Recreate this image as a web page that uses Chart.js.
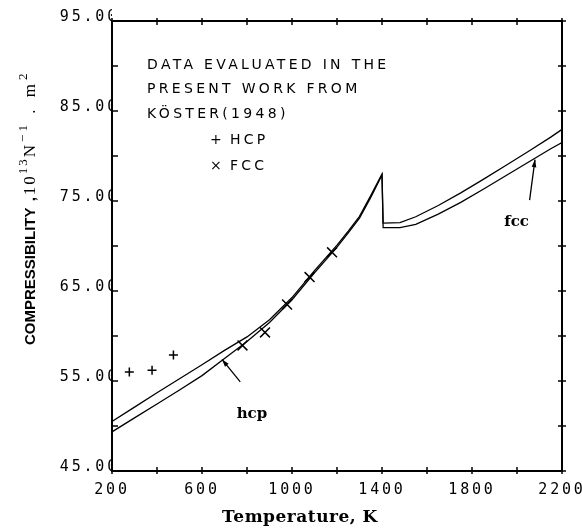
<!DOCTYPE html>
<html><head><meta charset="utf-8">
<script src="https://cdn.jsdelivr.net/npm/chart.js@4"></script>
<style>html,body{margin:0;padding:0;background:#fff}canvas{display:block}</style>
</head><body>
<canvas id="c" width="582" height="530"></canvas>
<script>
// ---- data ----
const lineTemps   = [200, 300, 400, 500, 600, 700, 800, 900, 1000, 1100, 1200, 1250, 1300, 1350, 1400, 1405, 1480, 1550, 1650, 1750, 1850, 1950, 2050, 2150, 2200];
const upperCurve  = [50.5, 52.1, 53.7, 55.25, 56.8, 58.4, 59.9, 61.8, 64.27, 67.27, 70.1, 71.65, 73.3, 75.6, 78.0, 72.55, 72.6, 73.25, 74.5, 75.9, 77.4, 78.95, 80.5, 82.1, 82.96];
const lowerCurve  = [49.35, 50.9, 52.45, 54.0, 55.6, 57.5, 59.4, 61.5, 64.03, 67.03, 69.88, 71.45, 73.1, 75.4, 77.9, 72.05, 72.05, 72.4, 73.55, 74.85, 76.3, 77.8, 79.3, 80.8, 81.5];
const hcpTemps    = [277, 378, 473];
const hcpValues   = [56.0, 56.2, 57.9];
const fccTemps    = [780, 880, 978, 1078, 1178];
const fccValues   = [58.95, 60.4, 63.5, 66.55, 69.3];
const xLabelTemps = [200, 600, 1000, 1400, 1800, 2200];
const yLabelValues = [45, 55, 65, 75, 85, 95];
const noteLines   = ['DATA EVALUATED IN THE', 'PRESENT WORK FROM', 'KÖSTER(1948)'];
const legendRows  = [['+', 'HCP'], ['×', 'FCC']];
const xTitle = 'Temperature, K';

const toPts = (xs, ys) => xs.map((x, i) => ({x, y: ys[i]}));

const deco = {
  id: 'deco',
  beforeDraw(chart) { chart.ctx.letterSpacing = '2.8px'; },
  afterDraw(chart) {
    const ctx = chart.ctx, {left, right, top, bottom} = chart.chartArea;
    const xs = chart.scales.x, ys = chart.scales.y;
    const X = v => xs.getPixelForValue(v), Y = v => ys.getPixelForValue(v);
    ctx.save();
    ctx.letterSpacing = '0px';
    ctx.strokeStyle = '#000'; ctx.fillStyle = '#000';
    ctx.lineWidth = 2;
    ctx.strokeRect(left, top, right - left, bottom - top);
    ctx.lineWidth = 1.5;
    const seg = (a, b, c, d) => { ctx.beginPath(); ctx.moveTo(a, b); ctx.lineTo(c, d); ctx.stroke(); };
    xs.ticks.forEach(t => { const p = X(t.value); seg(p, bottom - 4, p, bottom + 3); seg(p, top - 3, p, top + 4); });
    ys.ticks.forEach(t => { const p = Y(t.value); seg(left, p, left + 6, p); seg(right - 4, p, right + 4, p); });

    // notes
    ctx.font = '14px "DejaVu Sans"';
    ctx.letterSpacing = '3.3px';
    ctx.textBaseline = 'middle'; ctx.textAlign = 'left';
    const nx = X(356);
    noteLines.forEach((s, i) => ctx.fillText(s, nx, Y(90.1) + i * 24.7));
    legendRows.forEach((r, i) => {
      const yy = Y(90.1) + (3 + i) * 25.2;
      ctx.fillText(r[0], X(658) - 5, yy);
      ctx.fillText(r[1], X(724), yy);
    });
    ctx.letterSpacing = '0px';

    // curve labels + arrows
    ctx.font = 'bold 15px "DejaVu Serif"';
    ctx.textAlign = 'center';
    ctx.fillText('hcp', X(822), Y(51.3));
    ctx.fillText('fcc', X(1998), Y(72.7));
    const arrow = (t0, v0, t1, v1) => {
      const x0 = X(t0), y0 = Y(v0), x1 = X(t1), y1 = Y(v1);
      ctx.lineWidth = 1.3; seg(x0, y0, x1, y1);
      const a = Math.atan2(y1 - y0, x1 - x0), L = 8, w = 0.3;
      ctx.beginPath(); ctx.moveTo(x1, y1);
      ctx.lineTo(x1 - L * Math.cos(a - w), y1 - L * Math.sin(a - w));
      ctx.lineTo(x1 - L * Math.cos(a + w), y1 - L * Math.sin(a + w));
      ctx.closePath(); ctx.fill();
    };
    arrow(770, 54.9, 689, 57.4);
    arrow(2056, 75.1, 2080, 79.6);

    // x title
    ctx.font = 'bold 17px "DejaVu Serif"';
    ctx.letterSpacing = '0.5px';
    ctx.textAlign = 'center';
    ctx.fillText(xTitle, 300, 518);
    ctx.letterSpacing = '0px';

    // y title with superscripts
    ctx.translate(35, 345);
    ctx.rotate(-Math.PI / 2);
    ctx.textAlign = 'left'; ctx.textBaseline = 'alphabetic';
    let cx = 0;
    const piece = (txt, font, dy, sp) => { ctx.font = font; ctx.letterSpacing = sp + 'px'; ctx.fillText(txt, cx, dy); cx += ctx.measureText(txt).width; };
    piece('COMPRESSIBILITY', 'bold 15px "Liberation Sans"', 0, 0);
    piece(' ,', 'bold 15px "Liberation Sans"', 0, 2);
    piece('10', '17px "Liberation Serif"', 0, 2);
    piece('13', '13px "Liberation Serif"', -8, 2);
    piece('N', '17px "Liberation Serif"', 0, 3);
    piece('−1', '13px "Liberation Serif"', -8, 3);
    piece(' . m', '17px "Liberation Serif"', 0, 4);
    piece('2', '13px "Liberation Serif"', -8, 2);
    ctx.restore();
  }
};

const lineStyle = {showLine: true, borderColor: '#000', borderWidth: 1.3, pointRadius: 0, tension: 0, fill: false};

new Chart(document.getElementById('c'), {
  type: 'scatter',
  data: {
    datasets: [
      Object.assign({label: 'upper', data: toPts(lineTemps, upperCurve)}, lineStyle),
      Object.assign({label: 'lower', data: toPts(lineTemps, lowerCurve)}, lineStyle),
      {label: 'HCP', data: toPts(hcpTemps, hcpValues), pointStyle: 'cross', pointRadius: 4.5, borderColor: '#000', borderWidth: 1.5, showLine: false},
      {label: 'FCC', data: toPts(fccTemps, fccValues), pointStyle: 'crossRot', pointRadius: 7, borderColor: '#000', borderWidth: 1.5, showLine: false}
    ]
  },
  options: {
    responsive: false, animation: false, devicePixelRatio: 1,
    layout: {padding: {left: 0, top: 21, right: 20, bottom: 0}},
    plugins: {legend: {display: false}, tooltip: {enabled: false}},
    scales: {
      x: {
        type: 'linear', min: 200, max: 2200,
        afterFit: s => { s.height = 59; s.paddingLeft = 0; s.paddingRight = 0; },
        border: {display: false},
        grid: {display: false, drawTicks: false},
        ticks: {stepSize: 200, autoSkip: false, maxRotation: 0, padding: 10, color: '#000',
          font: {family: '"DejaVu Sans Mono"', size: 15},
          callback: v => xLabelTemps.includes(v) ? String(v) : ''}
      },
      y: {
        type: 'linear', min: 45, max: 95,
        afterFit: s => { s.width = 112; s.paddingTop = 0; s.paddingBottom = 0; },
        border: {display: false},
        grid: {display: false, drawTicks: false},
        ticks: {stepSize: 5, autoSkip: false, padding: -7, labelOffset: -4, color: '#000',
          font: {family: '"DejaVu Sans Mono"', size: 15},
          callback: v => yLabelValues.includes(v) ? v.toFixed(2) : ''}
      }
    }
  },
  plugins: [deco]
});
</script>
</body></html>
